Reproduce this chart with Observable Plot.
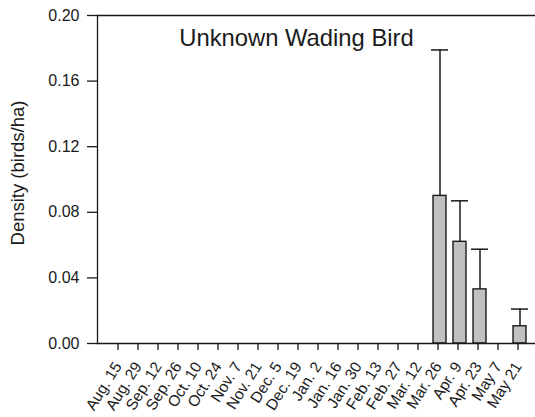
<!DOCTYPE html>
<html>
<head>
<meta charset="utf-8">
<script src="https://cdn.jsdelivr.net/npm/d3@7"></script>
<script src="https://cdn.jsdelivr.net/npm/@observablehq/plot@0.6"></script>
<style>
  html, body { margin: 0; padding: 0; background: #fff; }
  #chart svg { display: block; }
</style>
</head>
<body>
<div id="chart"></div>
<script>
const dates = ["Aug. 15", "Aug. 29", "Sep. 12", "Sep. 26", "Oct. 10", "Oct. 24", "Nov. 7", "Nov. 21", "Dec. 5", "Dec. 19", "Jan. 2", "Jan. 16", "Jan. 30", "Feb. 13", "Feb. 27", "Mar. 12", "Mar. 26", "Apr. 9", "Apr. 23", "May 7", "May 21"];
const density = [0, 0, 0, 0, 0, 0, 0, 0, 0, 0, 0, 0, 0, 0, 0, 0, 0.090, 0.062, 0.033, 0, 0.0105];
const stdError = [0, 0, 0, 0, 0, 0, 0, 0, 0, 0, 0, 0, 0, 0, 0, 0, 0.089, 0.025, 0.0245, 0, 0.0105];
const yTicks = [0, 0.04, 0.08, 0.12, 0.16, 0.20];
const title = "Unknown Wading Bird";
const yLabel = "Density (birds/ha)";

const rows = dates.map((d, i) => ({date: d, value: density[i], se: stdError[i], upper: density[i] + stdError[i]}));
const errRows = rows.filter(r => r.se > 0);
const ink = "#1a1a1a";

const chart = Plot.plot({
  width: 535,
  height: 417,
  marginLeft: 97,
  marginRight: 0,
  marginTop: 15,
  marginBottom: 74,
  style: {fontFamily: "'Liberation Sans', Arial, sans-serif", background: "#fff", color: ink},
  x: {type: "band", domain: dates, paddingInner: 0.37, paddingOuter: 0.617, align: 0.62},
  y: {domain: [0, 0.2]},
  marks: [
    Plot.barY(rows, {x: "date", y: "value", fill: "#c0c0c0", stroke: ink, strokeWidth: 1.4}),
    Plot.ruleX(errRows, {x: "date", y1: "value", y2: "upper", stroke: ink, strokeWidth: 1.5}),
    Plot.tickY(errRows, {x: "date", y: "upper", stroke: ink, strokeWidth: 1.5, insetLeft: -2, insetRight: -2}),
    Plot.ruleY([0], {stroke: ink, strokeWidth: 1.3}),
    Plot.ruleY([0.2], {stroke: ink, strokeWidth: 1.3}),
    Plot.frame({anchor: "left", stroke: ink, strokeWidth: 1.3}),
    Plot.axisY({ticks: yTicks, tickFormat: d3.format(".2f"), tickSize: 10, tickPadding: 8, fontSize: 16, label: null, stroke: ink, strokeWidth: 1.3}),
    Plot.axisX({tickRotate: -58, tickSize: 7, tickPadding: 13, dx: -2, fontSize: 15.5, label: null, stroke: ink, strokeWidth: 1.3}),
    Plot.text([title], {frameAnchor: "top", dx: -20, dy: 30, lineAnchor: "bottom", fontSize: 23.8, fill: ink}),
    Plot.text([yLabel], {frameAnchor: "left", rotate: -90, textAnchor: "middle", dx: -79, dy: -6.5, fontSize: 18.5, fill: ink})
  ]
});
document.getElementById("chart").appendChild(chart);
</script>
</body>
</html>
